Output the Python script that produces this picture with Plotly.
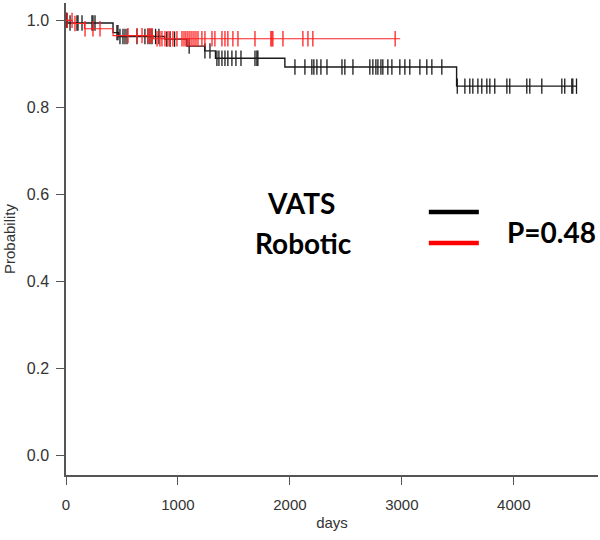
import numpy as np
import plotly.graph_objects as go

# ---- data (days, survival probability) ----
vats_event_days = [15, 420, 470, 880, 1080, 1240, 1335, 1955, 3489]
vats_event_surv = [0.994, 0.972, 0.963, 0.957, 0.941, 0.930, 0.913, 0.893, 0.849]
vats_end_day = 4563
vats_censor_days = [5, 9, 36, 98, 107, 143, 232, 241, 259,
                    455, 464, 482, 509, 527, 545, 634, 705, 732, 750, 768,
                    800, 830, 900, 930, 970, 1100, 1241, 1286,
                    1348, 1366, 1393, 1420, 1446, 1482, 1518, 1563, 1688, 1705, 1714,
                    2045, 2134, 2196, 2214, 2241, 2277, 2331, 2465, 2491, 2563,
                    2714, 2741, 2768, 2786, 2813, 2830, 2875, 2911, 2982, 3027,
                    3071, 3161, 3223, 3268, 3357,
                    3495, 3563, 3607, 3634, 3679, 3714, 3759, 3786, 3830, 3938,
                    3964, 4116, 4143, 4250, 4429, 4455, 4518, 4527, 4560]

rob_event_days = [55, 165, 420, 780]
rob_event_surv = [0.993, 0.981, 0.965, 0.958]
rob_end_day = 2985
rob_censor_days = [9, 54, 80, 170, 241, 304, 554, 634, 679, 732, 750, 768, 813,
                   839, 857, 884, 911, 929, 955, 991, 1036, 1054, 1071, 1089,
                   1107, 1125, 1143, 1161, 1179, 1214, 1241, 1304, 1330, 1393,
                   1420, 1446, 1491, 1536, 1688, 1830, 1839, 1848, 1938, 2116,
                   2161, 2205, 2940]

x_ticks = [0, 1000, 2000, 3000, 4000]
y_ticks = [0.0, 0.2, 0.4, 0.6, 0.8, 1.0]
group_labels = ["VATS", "Robotic"]
p_label = "P=0.48"


def step_xy(ev_days, ev_surv, end_day):
    xs = [0] + list(ev_days) + [end_day]
    ys = [1.0] + list(ev_surv) + [ev_surv[-1]]
    return xs, ys


def surv_at(ev_days, ev_surv, t):
    idx = np.searchsorted(np.array(ev_days), np.array(t), side="right")
    lv = np.array([1.0] + list(ev_surv))
    return lv[idx]


fig = go.Figure()
for ev_d, ev_s, end_d, cen, col, lw in [
    (vats_event_days, vats_event_surv, vats_end_day, vats_censor_days, "#1a1a1a", 1.4),
    (rob_event_days, rob_event_surv, rob_end_day, rob_censor_days, "#ff2020", 1.1),
]:
    xs, ys = step_xy(ev_d, ev_s, end_d)
    fig.add_trace(go.Scatter(x=xs, y=ys, mode="lines", line=dict(color=col, width=lw, shape="hv"),
                             showlegend=False, hoverinfo="skip"))
    fig.add_trace(go.Scatter(x=cen, y=surv_at(ev_d, ev_s, cen), mode="markers",
                             marker=dict(symbol="line-ns", size=11, line=dict(color=col, width=1.3)),
                             showlegend=False, hoverinfo="skip"))

axis_col = "#555555"
fig.update_layout(
    width=600, height=540,
    margin=dict(l=66, r=2, t=3, b=65),
    paper_bgcolor="white", plot_bgcolor="white",
    font=dict(family="Liberation Sans, Arial", size=15, color="#333333"),
    xaxis=dict(range=[0, 4752], tickvals=x_ticks, ticktext=[str(v) for v in x_ticks],
               showgrid=False, zeroline=False, showline=True, linecolor=axis_col, linewidth=1.5,
               ticks="outside", ticklen=8, tickwidth=1.3, tickcolor=axis_col,
               ticklabelstandoff=7,
               title=dict(text="days", font=dict(size=15), standoff=6)),
    yaxis=dict(range=[-0.044, 1.04], tickvals=y_ticks, ticktext=[f"{v:.1f}" for v in y_ticks],
               showgrid=False, zeroline=False, showline=True, linecolor=axis_col, linewidth=1.5,
               ticks="outside", ticklen=8, tickwidth=1.3, tickcolor=axis_col,
               tickfont=dict(size=16), ticklabelstandoff=4,
               title=dict(text="Probability", font=dict(size=15), standoff=8)),
)

leg_font = dict(family="Lato, Open Sans", size=28, color="black")
fig.add_annotation(x=0.4417, y=0.576, xref="paper", yref="paper", text=f"<b>{group_labels[0]}</b>",
                   showarrow=False, font=leg_font, xanchor="center", yanchor="middle")
fig.add_annotation(x=0.4455, y=0.4915, xref="paper", yref="paper", text=f"<b>{group_labels[1]}</b>",
                   showarrow=False, font=leg_font, xanchor="center", yanchor="middle")
fig.add_annotation(x=0.9135, y=0.515, xref="paper", yref="paper", text=f"<b>{p_label}</b>",
                   showarrow=False, font=leg_font, xanchor="center", yanchor="middle")
fig.add_shape(type="line", xref="paper", yref="paper", x0=0.682, x1=0.776, y0=0.557, y1=0.557,
              line=dict(color="black", width=4.5))
fig.add_shape(type="line", xref="paper", yref="paper", x0=0.682, x1=0.776, y0=0.4915, y1=0.4915,
              line=dict(color="#ff0000", width=4.5))

fig.write_html("out.html", config={"displayModeBar": False},
               post_script="document.body.style.margin='0';")
